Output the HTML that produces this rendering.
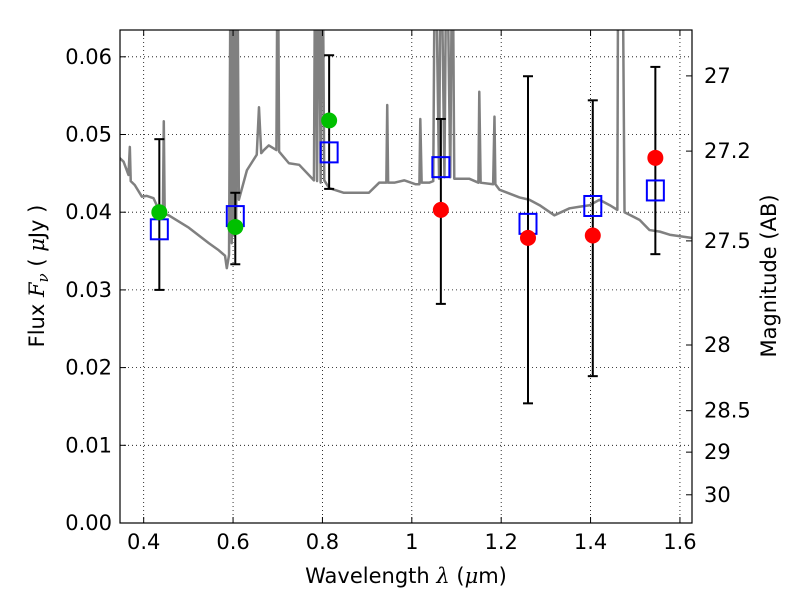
<!DOCTYPE html>
<html><head><meta charset="utf-8"><style>
body{margin:0;background:#fff}
svg text{font-family:"DejaVu Sans","Liberation Sans",sans-serif;font-size:21px;fill:#000}
</style></head><body>
<svg id="chart" width="800" height="600" xmlns="http://www.w3.org/2000/svg">
<g id="grid"></g>
<g id="spec"></g>
<g id="marks"></g>
<rect x="120" y="30" width="572" height="493" fill="none" stroke="#000" stroke-width="1.2"/>
<g id="axes"></g>
<text x="406" y="583" text-anchor="middle">Wavelength  <tspan font-style="italic" font-family="DejaVu Serif,serif">λ</tspan> (<tspan font-style="italic" font-family="DejaVu Serif,serif">μ</tspan>m)</text>
<text transform="translate(44,276) rotate(-90)" text-anchor="middle">Flux  <tspan font-style="italic" font-family="DejaVu Serif,serif">F<tspan font-size="15" dy="4">ν</tspan></tspan><tspan dy="-4">  (  </tspan><tspan font-style="italic" font-family="DejaVu Serif,serif">μ</tspan>Jy )</text>
<text transform="translate(776,276) rotate(-90)" text-anchor="middle">Magnitude (AB)</text>
</svg>
<script>
const xTicks=[0.4,0.6,0.8,1.0,1.2,1.4,1.6];
const xTickLabels=["0.4","0.6","0.8","1","1.2","1.4","1.6"];
const yTicks=[0,0.01,0.02,0.03,0.04,0.05,0.06];
const yTickLabels=["0.00","0.01","0.02","0.03","0.04","0.05","0.06"];
const magTicks=[27,27.2,27.5,28,28.5,29,30];
const magTickLabels=["27","27.2","27.5","28","28.5","29","30"];
const specLam=[0.344,0.355,0.366,0.369,0.371,0.380,0.396,0.407,0.422,0.434,0.443,0.445,0.447,0.456,0.501,0.546,0.568,0.582,0.586,0.591,0.595,0.597,0.600,0.602,0.604,0.607,0.609,0.613,0.631,0.653,0.658,0.663,0.669,0.680,0.697,0.700,0.703,0.725,0.748,0.781,0.784,0.788,0.792,0.796,0.800,0.804,0.815,0.826,0.848,0.904,0.927,0.943,0.945,0.947,0.961,0.983,1.008,1.017,1.019,1.022,1.039,1.048,1.052,1.061,1.065,1.073,1.078,1.086,1.091,1.095,1.129,1.149,1.151,1.154,1.182,1.185,1.187,1.196,1.241,1.263,1.286,1.319,1.353,1.375,1.398,1.420,1.443,1.460,1.462,1.471,1.476,1.510,1.532,1.555,1.577,1.626];
const specFlux=[0.0471,0.0465,0.0448,0.0484,0.0440,0.0435,0.0420,0.0421,0.0418,0.0403,0.0400,0.0517,0.0398,0.0396,0.0380,0.0360,0.0351,0.0344,0.0328,0.0345,0.08,0.036,0.08,0.037,0.08,0.039,0.08,0.0416,0.0454,0.0474,0.0535,0.0476,0.0480,0.0486,0.0480,0.08,0.0478,0.0463,0.0461,0.0441,0.08,0.0440,0.08,0.0438,0.08,0.0441,0.0431,0.0429,0.0425,0.0425,0.0438,0.0438,0.0538,0.0438,0.0438,0.0441,0.0436,0.0436,0.0520,0.0438,0.0438,0.0440,0.08,0.0443,0.08,0.0445,0.08,0.0445,0.08,0.0443,0.0443,0.0438,0.0555,0.0438,0.0436,0.0523,0.0436,0.0429,0.0419,0.0416,0.0409,0.0396,0.0405,0.0407,0.0409,0.0416,0.0409,0.0403,0.08,0.08,0.0400,0.0390,0.0377,0.0375,0.0371,0.0367];
const bandLam=[0.435,0.605,0.815,1.065,1.26,1.405,1.545];
const obsFlux=[0.0400,0.0381,0.0518,0.0403,0.0367,0.0370,0.0470];
const obsColor=["#00c000","#00c000","#00c000","#ff0000","#ff0000","#ff0000","#ff0000"];
const modelFlux=[0.0378,0.0395,0.0477,0.0458,0.0385,0.0408,0.0428];
const errHi=[0.0494,0.0425,0.0602,0.0520,0.0575,0.0544,0.0587];
const errLo=[0.0300,0.0333,0.0430,0.0282,0.0154,0.0189,0.0346];

const L=120,R=692,T=30,B=523,X0=0.347,X1=1.627,Y1=0.06345;
const sx=v=>L+(v-X0)/(X1-X0)*(R-L);
const sy=v=>B-v/Y1*(B-T);
const NS="http://www.w3.org/2000/svg";
function mk(tag,parent,attrs){const e=document.createElementNS(NS,tag);for(const k in attrs)e.setAttribute(k,attrs[k]);parent.appendChild(e);return e;}
const grid=document.getElementById('grid'),axes=document.getElementById('axes');
xTicks.forEach((t,i)=>{const x=sx(t);
 const g=mk('line',grid,{x1:x,x2:x,y1:T,y2:B,stroke:'#000','stroke-dasharray':'1,3','stroke-width':0.8});
 
 
 mk('line',axes,{x1:x,x2:x,y1:B,y2:B-6,stroke:'#000'});mk('line',axes,{x1:x,x2:x,y1:T,y2:T+6,stroke:'#000'});
 const tx=mk('text',axes,{x:x,y:B+26,'text-anchor':'middle'});tx.textContent=xTickLabels[i];
 
 });
yTicks.forEach((t,i)=>{const y=sy(t);
 if(t>0){const g=mk('line',grid,{x1:L,x2:R,y1:y,y2:y,stroke:'#000','stroke-dasharray':'1,3','stroke-width':0.8});
 
 }
 mk('line',axes,{x1:L,x2:L+6,y1:y,y2:y,stroke:'#000'});
 const tx=mk('text',axes,{x:L-8,y:y+7,'text-anchor':'end'});tx.textContent=yTickLabels[i];
 
 });
magTicks.forEach((m,i)=>{const y=sy(Math.pow(10,(23.9-m)/2.5));
 mk('line',axes,{x1:R,x2:R-6,y1:y,y2:y,stroke:'#000'});
 const tx=mk('text',axes,{x:R+12,y:y+7});tx.textContent=magTickLabels[i];
 
 });
const cp=mk('clipPath',document.getElementById('chart'),{id:'clip'});mk('rect',cp,{x:L,y:T,width:R-L,height:B-T});
const spec=document.getElementById('spec');spec.setAttribute('clip-path','url(#clip)');
const pl=mk('polyline',spec,{points:specLam.map((l,i)=>sx(l)+','+sy(specFlux[i])).join(' '),fill:'none',stroke:'#808080','stroke-width':2.5,'stroke-linejoin':'round'});


const marks=document.getElementById('marks');
bandLam.forEach((l,i)=>{const x=sx(l);
 const eb=mk('g',marks,{});
 
 
 mk('line',eb,{x1:x,x2:x,y1:sy(errHi[i]),y2:sy(errLo[i]),stroke:'#000','stroke-width':2});
 mk('line',eb,{x1:x-5,x2:x+5,y1:sy(errHi[i]),y2:sy(errHi[i]),stroke:'#000','stroke-width':2});
 mk('line',eb,{x1:x-5,x2:x+5,y1:sy(errLo[i]),y2:sy(errLo[i]),stroke:'#000','stroke-width':2});
 const sq=mk('rect',marks,{x:x-8.5,y:sy(modelFlux[i])-10,width:17,height:20,fill:'none',stroke:'#0000ff','stroke-width':2});
 
 
 const c=mk('circle',marks,{cx:x,cy:sy(obsFlux[i]),r:8,fill:obsColor[i]});
 
 });
</script>
</body></html>
